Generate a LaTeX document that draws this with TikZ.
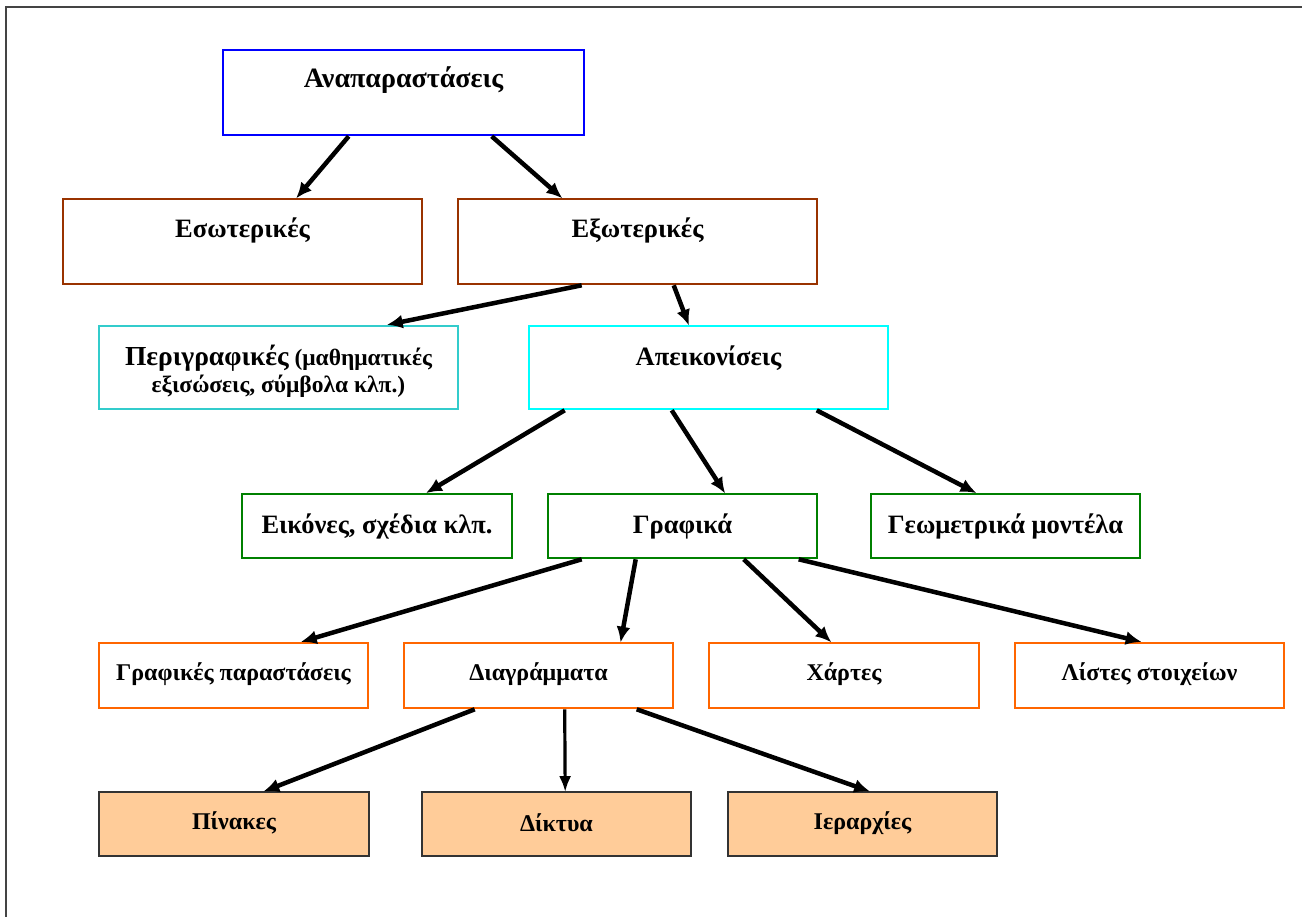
\documentclass[tikz,border=0pt]{standalone}
\usepackage{fontspec}
\setmainfont{Liberation Serif}
\usetikzlibrary{arrows.meta,calc}
\definecolor{cblue}{HTML}{0000FF}
\definecolor{cbrown}{HTML}{993300}
\definecolor{cteal}{HTML}{33CCCC}
\definecolor{ccyan}{HTML}{00FFFF}
\definecolor{cgreen}{HTML}{008000}
\definecolor{corange}{HTML}{FF6600}
\definecolor{cpeach}{HTML}{FFCC99}
\definecolor{cframe}{HTML}{444444}
\tikzset{
  box/.style={draw, line width=2.6pt, rectangle, inner sep=0pt},
  bigtxt/.style={font=\fontsize{26.5}{30}\selectfont\bfseries, inner sep=0pt},
  smtxt/.style={font=\fontsize{24}{27}\selectfont\bfseries, inner sep=0pt},
  arr/.style={-{Latex[length=16pt,width=14pt]}, line width=4.5pt, black, shorten >=-1pt},
  arrthin/.style={-{Latex[length=16pt,width=12pt]}, line width=3.2pt, black, shorten >=-1pt},
}
\begin{document}
\begin{tikzpicture}[x=1pt,y=-1pt]
\useasboundingbox (0,0) rectangle (1302,917);
\draw[cframe, line width=2pt] (6,917) -- (6,7) -- (1302,7);

% row 1
\node[box, draw=cblue, minimum width=361, minimum height=85] (rep) at (403.5,92.5) {};
\node[bigtxt, font=\fontsize{28}{30}\selectfont\bfseries] (repT) at (403.5,80) {Αναπαραστάσεις};
% row 2
\node[box, draw=cbrown, minimum width=359, minimum height=85] (eso) at (242.5,241.5) {};
\node[bigtxt] (esoT) at (242.5,230) {Εσωτερικές};
\node[box, draw=cbrown, minimum width=359, minimum height=85] (exo) at (637.5,241.5) {};
\node[bigtxt] (exoT) at (637.5,230) {Εξωτερικές};
% row 3
\node[box, draw=cteal, minimum width=359, minimum height=83] (per) at (278.5,367.5) {};
\node[inner sep=0pt, align=center, font=\bfseries] (perT) at (278.5,371.5)
  {{\fontsize{27.5}{27}\selectfont Περιγραφικές\fontsize{23.5}{27}\selectfont{} (μαθηματικές}\\[3pt]
   {\fontsize{23.5}{27}\selectfont εξισώσεις, σύμβολα κλπ.)}};
\node[box, draw=ccyan, minimum width=359, minimum height=83] (ap) at (708.5,367.5) {};
\node[bigtxt] (apT) at (708.5,358) {Απεικονίσεις};
% row 4
\node[box, draw=cgreen, minimum width=270, minimum height=64] (eik) at (377,526) {};
\node[bigtxt] (eikT) at (377,526) {Εικόνες, σχέδια κλπ.};
\node[box, draw=cgreen, minimum width=269, minimum height=64] (gr) at (682.5,526) {};
\node[bigtxt] (grT) at (682.5,526) {Γραφικά};
\node[box, draw=cgreen, minimum width=269, minimum height=64] (geo) at (1005.5,526) {};
\node[bigtxt] (geoT) at (1005.5,526) {Γεωμετρικά μοντέλα};
% row 5
\node[box, draw=corange, minimum width=269, minimum height=65] (gp) at (233.5,675.5) {};
\node[smtxt] (gpT) at (233.5,674) {Γραφικές παραστάσεις};
\node[box, draw=corange, minimum width=269, minimum height=65] (diag) at (538.5,675.5) {};
\node[smtxt] (diagT) at (538.5,674) {Διαγράμματα};
\node[box, draw=corange, minimum width=270, minimum height=65] (xar) at (844,675.5) {};
\node[smtxt] (xarT) at (844,674) {Χάρτες};
\node[box, draw=corange, minimum width=269, minimum height=65] (list) at (1149.5,675.5) {};
\node[smtxt] (listT) at (1149.5,674) {Λίστες στοιχείων};
% row 6
\node[box, draw=black!80, fill=cpeach, line width=1.6pt, minimum width=270, minimum height=64] (pin) at (234,824) {};
\node[smtxt] (pinT) at (234,823) {Πίνακες};
\node[box, draw=black!80, fill=cpeach, line width=1.6pt, minimum width=269, minimum height=64] (dik) at (556.5,824) {};
\node[smtxt] (dikT) at (556.5,823) {Δίκτυα};
\node[box, draw=black!80, fill=cpeach, line width=1.6pt, minimum width=269, minimum height=64] (ier) at (862.5,824) {};
\node[smtxt] (ierT) at (862.5,823) {Ιεραρχίες};

% connectors
\draw[arr] ([xshift=127]rep.south west) -- ([xshift=235]eso.north west);
\draw[arr] ([xshift=270]rep.south west) -- ([xshift=105]exo.north west);
\draw[arr] ([xshift=125]exo.south west) -- ([xshift=290]per.north west);
\draw[arr] ([xshift=217]exo.south west) -- ([xshift=161]ap.north west);
\draw[arr] ([xshift=37]ap.south west) -- ([xshift=186]eik.north west);
\draw[arr] ([xshift=144]ap.south west) -- ([xshift=178]gr.north west);
\draw[arr] ([xshift=289]ap.south west) -- ([xshift=106]geo.north west);
\draw[arr] ([xshift=35]gr.south west) -- ([xshift=204]gp.north west);
\draw[arr] ([xshift=89]gr.south west) -- ([xshift=218]diag.north west);
\draw[arr] ([xshift=197]gr.south west) -- ([xshift=123]xar.north west);
\draw[arr] ([xshift=252]gr.south west) -- ([xshift=127]list.north west);
\draw[arr] ([xshift=72]diag.south west) -- ([xshift=166]pin.north west);
\draw[arrthin] ([xshift=162]diag.south west) -- ([xshift=144]dik.north west);
\draw[arr] ([xshift=234]diag.south west) -- ([xshift=142]ier.north west);
\end{tikzpicture}
\end{document}
